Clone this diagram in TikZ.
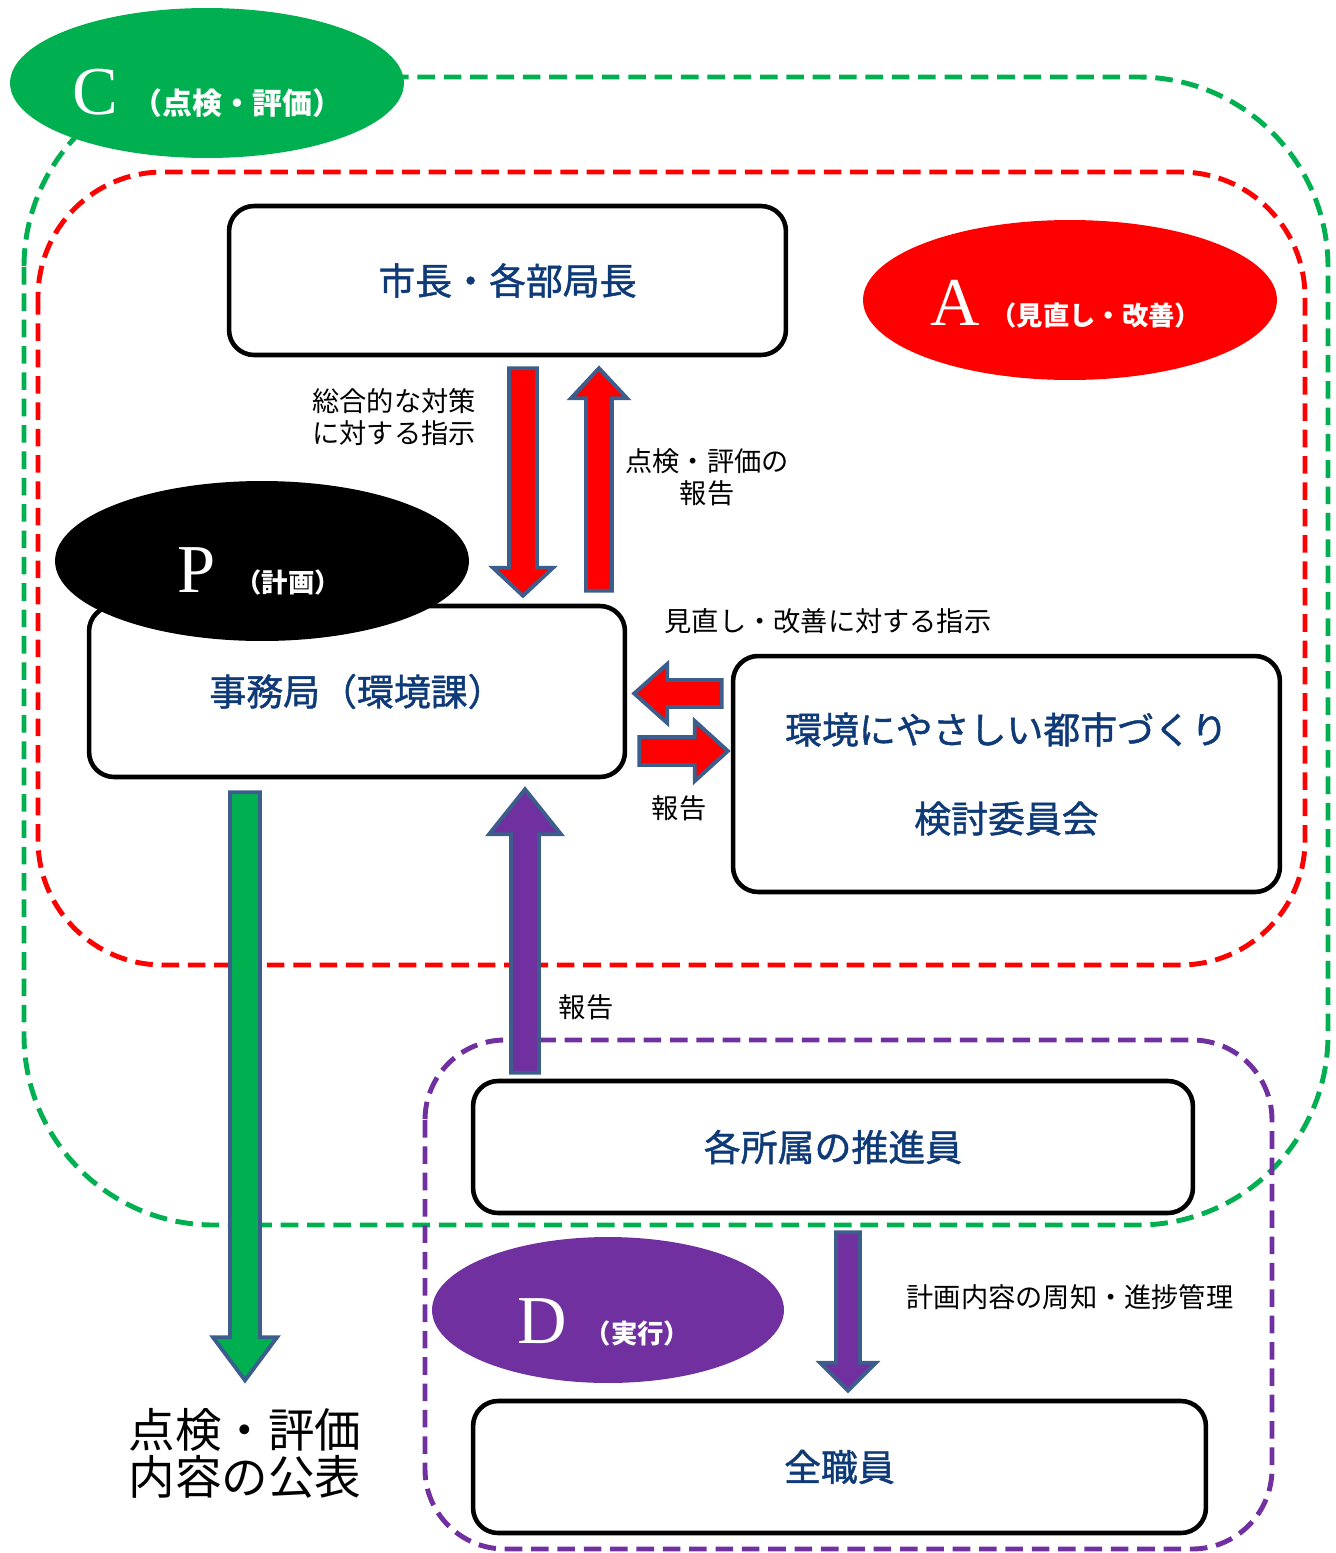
\documentclass[tikz,border=0pt]{standalone}
\usepackage{fontspec}
\setmainfont{Noto Sans CJK JP}
\newfontfamily\unitfont[FakeBold=1.2]{Noto Sans CJK JP}
\newfontfamily\latinserif{Liberation Serif}
\usetikzlibrary{calc,shapes.geometric}
\definecolor{checkgreen}{HTML}{00B050}
\definecolor{actred}{HTML}{FF0000}
\definecolor{dopurple}{HTML}{7030A0}
\definecolor{boxtext}{HTML}{0E3A78}
\definecolor{arrowline}{HTML}{3B5E8C}
\newcommand{\phasechar}[1]{{\normalfont\latinserif\fontsize{39}{39}\selectfont #1}}

% block arrow from #2 to #3: shaft half width #4, head half width #5, head length #6
\newcommand{\blockarrow}[6]{%
  \path[#1] let \p1=(#2), \p2=(#3), \n1={veclen(\x2-\x1,\y2-\y1)}, \n2={atan2(\y2-\y1,\x2-\x1)} in
    [shift={(\p1)}, rotate=\n2]
    (0pt,-#4) -- ({\n1-#6},-#4) -- ({\n1-#6},-#5) -- (\n1,0pt) -- ({\n1-#6},#5) -- ({\n1-#6},#4) -- (0pt,#4) -- cycle;}

\begin{document}
\begin{tikzpicture}[
  x=0.02cm, y=-0.02cm,
  every node/.style={inner sep=0pt},
  region/.style={line width=2.8pt, dash pattern=on 10pt off 5pt},
  unitbox/.style={
    draw=black, line width=2.6pt, rounded corners=0.5cm, fill=white,
    text=boxtext, font=\unitfont\fontsize{21}{25}\selectfont, align=center,
  },
  phase/.style={ellipse, draw=none},
  phasetext/.style={text=white, font=\bfseries},
  note/.style={font=\fontsize{15.5}{18.2}\selectfont, align=center},
  blockarrow/.style={draw=arrowline, line width=2.2pt, line join=miter},
]
  \useasboundingbox (0,0) rectangle (1336,1553);

  % PDCA regions
  \draw[region, checkgreen, rounded corners=3.8cm] (24,77) rectangle (1328,1225);
  \draw[region, actred, rounded corners=2.5cm] (38,172) rectangle (1305,965);
  \draw[region, dopurple, rounded corners=1.6cm] (425,1040) rectangle (1272,1549);

  % Units
  \node[unitbox, minimum width=11.14cm, minimum height=2.98cm] (boss) at (507.5,280.5) {市長・各部局長};
  \node[unitbox, minimum width=10.72cm, minimum height=3.42cm] (office) at (357,691.5) {事務局（環境課）};
  \node[unitbox, minimum width=10.94cm, minimum height=4.72cm] (committee) at (1006.5,774)
    {環境にやさしい都市づくり\\[0.9cm]検討委員会};
  \node[unitbox, minimum width=14.4cm, minimum height=2.64cm] (promoters) at (833,1147) {各所属の推進員};
  \node[unitbox, minimum width=14.66cm, minimum height=2.64cm] (staff) at (839.5,1467) {全職員};

  % Phase labels
  \node[phase, fill=checkgreen, minimum width=7.88cm, minimum height=3cm] (check) at (207,83) {};
  \node[phasetext] (checktxt) at ($(check.center)+(0,10)$)
    {\phasechar{C}\hspace{0.3cm}{\fontsize{17}{20}\selectfont （点検・評価）}};
  \node[phase, fill=actred, minimum width=8.28cm, minimum height=3.2cm] (act) at (1070,300) {};
  \node[phasetext] (acttxt) at ($(act.center)+(-4,4)$)
    {\phasechar{A}\hspace{0.2cm}{\fontsize{15}{18}\selectfont （見直し・改善）}};
  \node[phase, fill=black, minimum width=8.28cm, minimum height=3.2cm] (plan) at (262,561) {};
  \node[phasetext] (plantxt) at ($(plan.center)+(-3,10)$)
    {\phasechar{P}\hspace{0.4cm}{\fontsize{15}{18}\selectfont （計画）}};
  \node[phase, fill=dopurple, minimum width=7.04cm, minimum height=2.92cm] (do) at (608,1310) {};
  \node[phasetext] (dotxt) at ($(do.center)+(-4,12)$)
    {\phasechar{D}\hspace{0.35cm}{\fontsize{15}{18}\selectfont （実行）}};

  % Arrow ends
  \coordinate (dnA) at ($(boss.south)+(15.5,11)$);
  \coordinate (dnB) at ($(dnA |- office.north)+(0,-8)$);
  \coordinate (upA) at ($(office.north)+(242,-13)$);
  \coordinate (upB) at ($(upA |- boss.south)+(0,11)$);
  \coordinate (ltA) at ($(committee.west)+(-9,-80.5)$);
  \coordinate (ltB) at ($(ltA -| office.east)+(7,0)$);
  \coordinate (rtA) at ($(office.east)+(12,59.5)$);
  \coordinate (rtB) at ($(rtA -| committee.west)+(-3,0)$);
  \coordinate (pubA) at ($(office.south)+(-112,13)$);
  \coordinate (pubB) at ($(pubA)+(0,588)$);
  \coordinate (repA) at ($(promoters.north)+(-308,-6)$);
  \coordinate (repB) at ($(repA |- office.south)+(0,10)$);
  \coordinate (infA) at ($(promoters.south)+(15,17)$);
  \coordinate (infB) at ($(infA |- staff.north)+(0,-8)$);

  % Block arrows
  \blockarrow{blockarrow, fill=actred}{dnA}{dnB}{0.28cm}{0.6cm}{0.56cm}
  \blockarrow{blockarrow, fill=actred}{upA}{upB}{0.26cm}{0.56cm}{0.6cm}
  \blockarrow{blockarrow, fill=actred}{ltA}{ltB}{0.27cm}{0.59cm}{0.66cm}
  \blockarrow{blockarrow, fill=actred}{rtA}{rtB}{0.28cm}{0.6cm}{0.66cm}
  \blockarrow{blockarrow, fill=checkgreen}{pubA}{pubB}{0.3cm}{0.64cm}{0.86cm}
  \blockarrow{blockarrow, fill=dopurple}{repA}{repB}{0.28cm}{0.72cm}{0.9cm}
  \blockarrow{blockarrow, fill=dopurple}{infA}{infB}{0.24cm}{0.56cm}{0.56cm}

  % Arrow labels
  \node[note] (instr) at (394,417) {総合的な対策\\に対する指示};
  \node[note] (evalrep) at (707,477) {点検・評価の\\報告};
  \node[note] (reviewinstr) at (828,621) {見直し・改善に対する指示};
  \node[note] (comrep) at (679,808) {報告};
  \node[note] (unitrep) at (586,1007) {報告};
  \node[note] (inform) at (1070,1297) {計画内容の周知・進捗管理};
  \node[font=\fontsize{26.5}{26.7}\selectfont, align=center] (publish) at (245,1453) {点検・評価\\内容の公表};
\end{tikzpicture}
\end{document}
